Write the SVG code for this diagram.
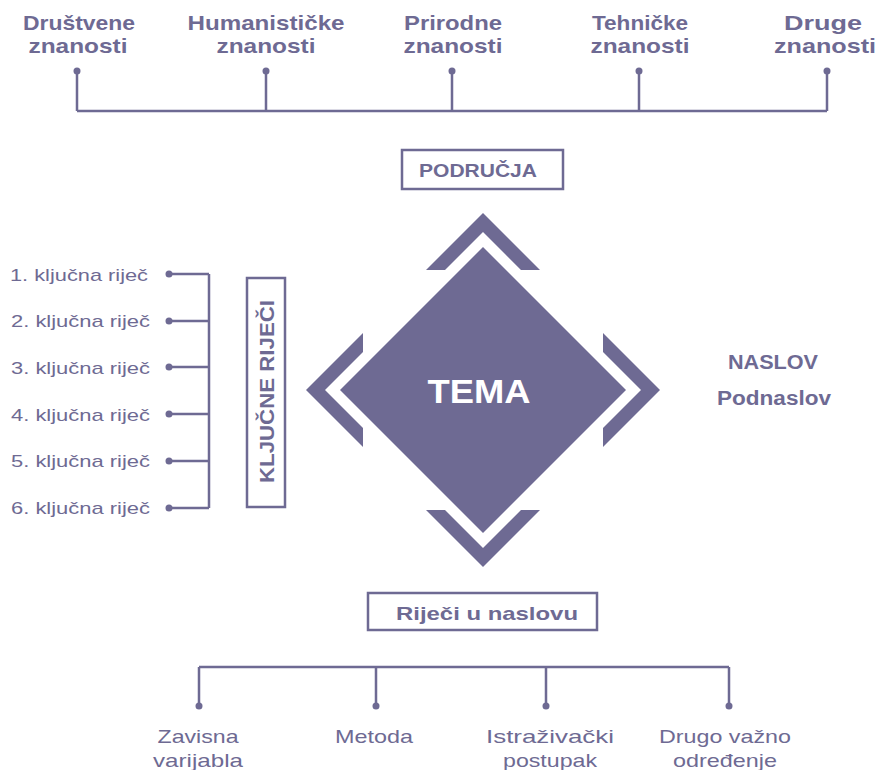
<svg xmlns="http://www.w3.org/2000/svg" width="878" height="770" viewBox="0 0 878 770">
<style>
.b{font-family:"Liberation Sans",Arial,sans-serif;font-weight:bold;fill:#6e6a93}
.r{font-family:"Liberation Sans",Arial,sans-serif;font-weight:normal;fill:#6e6a93}
.ln{stroke:#6e6a93;stroke-width:2.5;fill:none}
.dot{fill:#6e6a93}
.box{fill:#fff;stroke:#6e6a93;stroke-width:2.5}
.shape{fill:#6e6a93}
</style>
<defs>
<polygon id="chev" points="-57,-120 0,-177 57,-120 38,-120 0,-158 -38,-120"/>
</defs>
<rect width="878" height="770" fill="#fff"/>

<g id="connectors">
<path class="ln" d="M77,71V111M266,71V111M452,71V111M639,71V111M827,71V111M77,111H827"/>
<path class="ln" d="M169,274H209M169,321H209M169,367H209M169,414H209M169,461H209M169,508H209M209,274V508"/>
<path class="ln" d="M199,667H729M199,667V706M376,667V706M546,667V706M729,667V706"/>
<g class="dot">
<circle cx="77" cy="71" r="3.5"/><circle cx="266" cy="71" r="3.5"/><circle cx="452" cy="71" r="3.5"/><circle cx="639" cy="71" r="3.5"/><circle cx="827" cy="71" r="3.5"/>
<circle cx="169" cy="274" r="3.5"/><circle cx="169" cy="321" r="3.5"/><circle cx="169" cy="367" r="3.5"/><circle cx="169" cy="414" r="3.5"/><circle cx="169" cy="461" r="3.5"/><circle cx="169" cy="508" r="3.5"/>
<circle cx="199" cy="706" r="3.5"/><circle cx="376" cy="706" r="3.5"/><circle cx="546" cy="706" r="3.5"/><circle cx="729" cy="706" r="3.5"/>
</g>
</g>

<g id="drustvene"><text class="b" font-size="21" text-anchor="middle"><tspan x="79" y="30" textLength="112" lengthAdjust="spacingAndGlyphs">Društvene</tspan><tspan x="78" y="53" textLength="99" lengthAdjust="spacingAndGlyphs">znanosti</tspan></text></g>
<g id="humanisticke"><text class="b" font-size="21" text-anchor="middle"><tspan x="266" y="30" textLength="157" lengthAdjust="spacingAndGlyphs">Humanističke</tspan><tspan x="266" y="53" textLength="99" lengthAdjust="spacingAndGlyphs">znanosti</tspan></text></g>
<g id="prirodne"><text class="b" font-size="21" text-anchor="middle"><tspan x="453" y="30" textLength="98" lengthAdjust="spacingAndGlyphs">Prirodne</tspan><tspan x="453" y="53" textLength="99" lengthAdjust="spacingAndGlyphs">znanosti</tspan></text></g>
<g id="tehnicke"><text class="b" font-size="21" text-anchor="middle"><tspan x="640" y="30" textLength="96" lengthAdjust="spacingAndGlyphs">Tehničke</tspan><tspan x="640" y="53" textLength="99" lengthAdjust="spacingAndGlyphs">znanosti</tspan></text></g>
<g id="druge"><text class="b" font-size="21" text-anchor="middle"><tspan x="823" y="30" textLength="78" lengthAdjust="spacingAndGlyphs">Druge</tspan><tspan x="825" y="53" textLength="102" lengthAdjust="spacingAndGlyphs">znanosti</tspan></text></g>

<g id="podrucja"><rect class="box" x="402" y="150" width="161" height="39"/><text class="b" font-size="19" x="419" y="177" textLength="118" lengthAdjust="spacingAndGlyphs">PODRUČJA</text></g>

<g id="tema">
<g class="shape">
<use href="#chev" transform="translate(483,390)"/>
<use href="#chev" transform="translate(483,390) rotate(90)"/>
<use href="#chev" transform="translate(483,390) rotate(180)"/>
<use href="#chev" transform="translate(483,390) rotate(270)"/>
<polygon points="483,247 626,390 483,533 340,390"/>
</g>
<text class="b" font-size="33" x="479" y="403" text-anchor="middle" textLength="103" lengthAdjust="spacingAndGlyphs" style="fill:#fff">TEMA</text>
</g>

<g id="kljucne-rijeci"><rect class="box" x="247" y="278" width="38" height="229"/><text class="b" font-size="21" text-anchor="middle" transform="translate(274,391.5) rotate(-90)" textLength="183" lengthAdjust="spacingAndGlyphs">KLJUČNE RIJEČI</text></g>

<g id="kw1"><text class="r" font-size="17" x="10" y="281" textLength="138" lengthAdjust="spacingAndGlyphs">1. ključna riječ</text></g>
<g id="kw2"><text class="r" font-size="17" x="11" y="327" textLength="139" lengthAdjust="spacingAndGlyphs">2. ključna riječ</text></g>
<g id="kw3"><text class="r" font-size="17" x="11" y="374" textLength="139" lengthAdjust="spacingAndGlyphs">3. ključna riječ</text></g>
<g id="kw4"><text class="r" font-size="17" x="11" y="421" textLength="139" lengthAdjust="spacingAndGlyphs">4. ključna riječ</text></g>
<g id="kw5"><text class="r" font-size="17" x="11" y="467" textLength="139" lengthAdjust="spacingAndGlyphs">5. ključna riječ</text></g>
<g id="kw6"><text class="r" font-size="17" x="11" y="514" textLength="139" lengthAdjust="spacingAndGlyphs">6. ključna riječ</text></g>

<g id="naslov"><text class="b" font-size="20" text-anchor="middle"><tspan x="773" y="369" textLength="90" lengthAdjust="spacingAndGlyphs">NASLOV</tspan><tspan x="774" y="405" textLength="114" lengthAdjust="spacingAndGlyphs">Podnaslov</tspan></text></g>

<g id="rijeci-u-naslovu"><rect class="box" x="368" y="593" width="229" height="37"/><text class="b" font-size="19" x="396" y="620" textLength="182" lengthAdjust="spacingAndGlyphs">Riječi u naslovu</text></g>

<g id="zavisna"><text class="r" font-size="19" text-anchor="middle"><tspan x="198" y="743" textLength="81" lengthAdjust="spacingAndGlyphs">Zavisna</tspan><tspan x="198" y="767" textLength="90" lengthAdjust="spacingAndGlyphs">varijabla</tspan></text></g>
<g id="metoda"><text class="r" font-size="19" x="374" y="743" text-anchor="middle" textLength="78" lengthAdjust="spacingAndGlyphs">Metoda</text></g>
<g id="istrazivacki"><text class="r" font-size="19" text-anchor="middle"><tspan x="550" y="743" textLength="128" lengthAdjust="spacingAndGlyphs">Istraživački</tspan><tspan x="550" y="767" textLength="94" lengthAdjust="spacingAndGlyphs">postupak</tspan></text></g>
<g id="drugo"><text class="r" font-size="19" text-anchor="middle"><tspan x="725" y="743" textLength="132" lengthAdjust="spacingAndGlyphs">Drugo važno</tspan><tspan x="725" y="767" textLength="104" lengthAdjust="spacingAndGlyphs">određenje</tspan></text></g>
</svg>
